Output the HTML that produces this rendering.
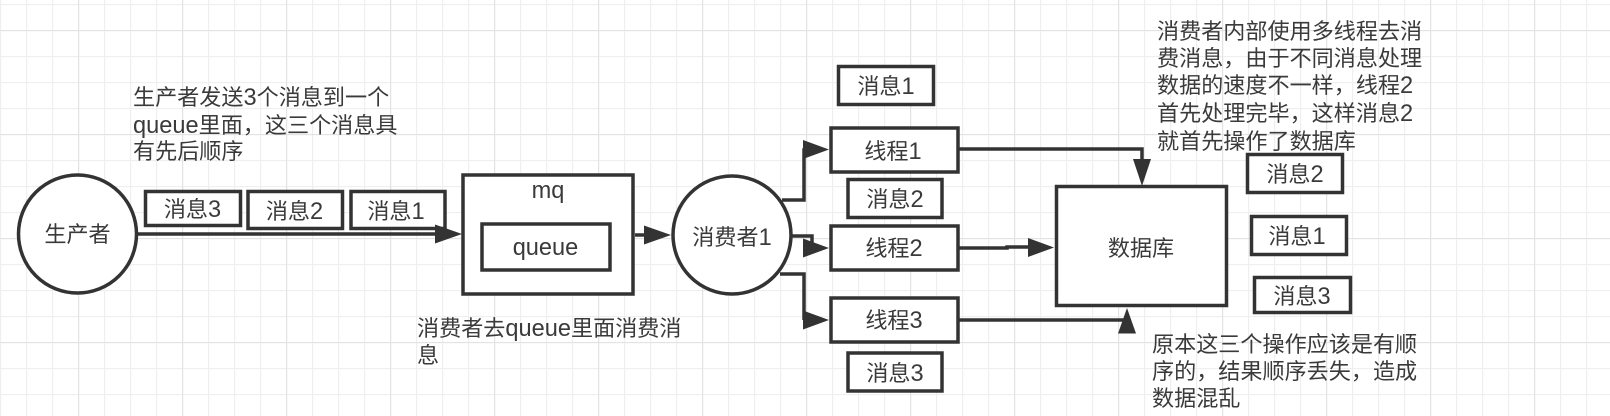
<!DOCTYPE html>
<html lang="zh-CN"><head><meta charset="utf-8"><style>
html,body{margin:0;padding:0;background:#fff;width:1610px;height:416px;overflow:hidden}
svg{display:block}
text{font-family:"Liberation Sans","Noto Sans CJK SC",sans-serif;font-size:22.1px;fill:#3a3a3a}
tspan{font-size:23.6px}
.c{text-anchor:middle}
.s{fill:#fff;stroke:#333;stroke-width:3.5}
.l{fill:none;stroke:#333;stroke-width:3.5}
.h{fill:#333}
</style></head><body>
<svg width="1610" height="416" viewBox="0 0 1610 416" xmlns="http://www.w3.org/2000/svg">
<defs>
<pattern id="g" width="26" height="26" patternUnits="userSpaceOnUse" x="0" y="4"><path d="M0.5 0V26M0 0.5H26" fill="none" stroke="#efefef" stroke-width="1.3"/></pattern>
<pattern id="G" width="104" height="104" patternUnits="userSpaceOnUse" x="78" y="30"><path d="M0.5 0V104M0 0.5H104" fill="none" stroke="#e3e3e3" stroke-width="1.3"/></pattern>
</defs>
<rect width="1610" height="416" fill="#fff"/>
<rect width="1610" height="416" fill="url(#g)"/>
<rect width="1610" height="416" fill="url(#G)"/>

<circle class="s" cx="77.5" cy="234" r="59"/>
<text class="c" x="77.5" y="242">生产者</text>

<path class="l" d="M138 234H440"/>
<rect class="s" x="145.5" y="191.5" width="95" height="34"/>
<text class="c" x="192.5" y="217">消息<tspan>3</tspan></text>
<rect class="s" x="248" y="191.5" width="94.5" height="37"/>
<text class="c" x="294.5" y="219">消息<tspan>2</tspan></text>
<rect class="s" x="351" y="191.5" width="94" height="37"/>
<text class="c" x="396" y="219">消息<tspan>1</tspan></text>
<path class="h" d="M435 224.500L462 234L435 243.500Z"/>

<rect class="s" x="463" y="175" width="170" height="119"/>
<text class="c" x="548" y="198"><tspan>mq</tspan></text>
<rect class="s" x="482" y="224" width="128" height="46"/>
<text class="c" x="545.500" y="255"><tspan>queue</tspan></text>

<path class="l" d="M635 235H650"/>
<path class="h" d="M644 225.500L671 235L644 244.500Z"/>

<circle class="s" cx="732" cy="235" r="59"/>
<text class="c" x="732" y="245">消费者<tspan>1</tspan></text>

<path class="l" d="M782 200H804V150H810"/>
<path class="h" d="M803 140L829 149.500L803 159Z"/>
<path class="l" d="M792 236H812V248"/>
<path class="h" d="M803 238.500L829 248L803 257.500Z"/>
<path class="l" d="M780 274H804V320"/>
<path class="h" d="M803 310.500L829 320L803 329.500Z"/>

<rect class="s" x="838.500" y="66.500" width="95" height="38"/>
<text class="c" x="886" y="94">消息<tspan>1</tspan></text>
<rect class="s" x="831" y="128" width="127" height="44"/>
<text class="c" x="893" y="159">线程<tspan>1</tspan></text>
<rect class="s" x="848" y="179.500" width="94" height="38"/>
<text class="c" x="895" y="207">消息<tspan>2</tspan></text>
<rect class="s" x="831" y="226" width="127" height="44"/>
<text class="c" x="894" y="256">线程<tspan>2</tspan></text>
<rect class="s" x="831" y="298" width="127" height="44"/>
<text class="c" x="894" y="328">线程<tspan>3</tspan></text>
<rect class="s" x="848" y="353" width="94" height="38"/>
<text class="c" x="895" y="381">消息<tspan>3</tspan></text>

<path class="l" d="M959 149H1142V165"/>
<path class="h" d="M1133 159H1151L1142 186Z"/>
<path class="l" d="M959 248H1007V247H1035"/>
<path class="h" d="M1028 238L1054 247.500L1028 257Z"/>
<path class="l" d="M959 320H1127"/>
<path class="h" d="M1118 333.500H1136L1127 308Z"/>

<rect class="s" x="1056.500" y="186.500" width="170" height="119"/>
<text class="c" x="1141" y="256">数据库</text>

<rect class="s" x="1247.500" y="154.500" width="95" height="38"/>
<text class="c" x="1295" y="182">消息<tspan>2</tspan></text>
<rect class="s" x="1251.500" y="216.500" width="95" height="38"/>
<text class="c" x="1297" y="244">消息<tspan>1</tspan></text>
<rect class="s" x="1254.500" y="277.500" width="96" height="35"/>
<text class="c" x="1302" y="304">消息<tspan>3</tspan></text>

<text x="133" y="105">生产者发送<tspan>3</tspan>个消息到一个</text>
<text x="133" y="133"><tspan>queue</tspan>里面，这三个消息具</text>
<text x="133" y="159">有先后顺序</text>

<text x="417" y="336">消费者去<tspan>queue</tspan>里面消费消</text>
<text x="417" y="363">息</text>

<text x="1157" y="39">消费者内部使用多线程去消</text>
<text x="1157" y="66">费消息，由于不同消息处理</text>
<text x="1157" y="93">数据的速度不一样，线程<tspan>2</tspan></text>
<text x="1157" y="121">首先处理完毕，这样消息<tspan>2</tspan></text>
<text x="1157" y="149">就首先操作了数据库</text>

<text x="1152" y="352">原本这三个操作应该是有顺</text>
<text x="1152" y="379">序的，结果顺序丢失，造成</text>
<text x="1152" y="406">数据混乱</text>
</svg>
</body></html>
